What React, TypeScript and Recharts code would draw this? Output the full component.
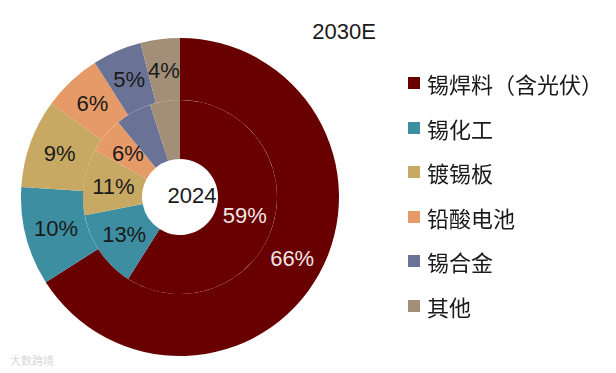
import React from "react";
import { PieChart, Pie, Cell } from "recharts";

const categories = ["锡焊料（含光伏）", "锡化工", "镀锡板", "铅酸电池", "锡合金", "其他"];
const values2024 = [59, 13, 11, 6, 6, 5];
const values2030 = [66, 10, 9, 6, 5, 4];
const showInnerLabel = [true, true, true, true, false, false];
const colors = ["#680000", "#3e8ea2", "#c7a963", "#e69a68", "#6a7396", "#a38f78"];
const labelColors = ["#f3e6e6", "#1a1a1a", "#1a1a1a", "#1a1a1a", "#1a1a1a", "#1a1a1a"];
const title = "2030E";
const centerLabel = "2024";

const inner = categories.map((name, i) => ({ name, value: values2024[i] }));
const outer = categories.map((name, i) => ({ name, value: values2030[i] }));

const FONT = "'Liberation Sans', Arial, 'Noto Sans CJK SC', sans-serif";
const RADIAN = Math.PI / 180;

const makeLabel = (show: boolean[] | null) => (props: any) => {
  const { cx, cy, midAngle, innerRadius, outerRadius, value, index } = props;
  if (show && !show[index]) return null;
  const r = (innerRadius + outerRadius) / 2;
  const x = cx + r * Math.cos(-midAngle * RADIAN);
  const y = cy + r * Math.sin(-midAngle * RADIAN);
  return (
    <text
      x={x}
      y={y}
      fill={labelColors[index]}
      fontSize={22}
      fontFamily={FONT}
      textAnchor="middle"
      dominantBaseline="central"
    >
      {`${value}%`}
    </text>
  );
};

export default function App() {
  return (
    <div style={{ position: "fixed", left: 0, top: 0, width: 616, height: 373, background: "#fff", fontFamily: FONT }}>
      <PieChart width={616} height={373} margin={{ top: 0, right: 0, bottom: 0, left: 0 }}>
        <Pie
          data={inner}
          dataKey="value"
          cx={180}
          cy={197}
          innerRadius={38}
          outerRadius={97}
          startAngle={90}
          endAngle={-270}
          stroke="none"
          label={makeLabel(showInnerLabel)}
          labelLine={false}
          isAnimationActive={false}
        >
          {inner.map((d, i) => (
            <Cell key={d.name} fill={colors[i]} />
          ))}
        </Pie>
        <Pie
          data={outer}
          dataKey="value"
          cx={180}
          cy={197}
          innerRadius={97}
          outerRadius={159}
          startAngle={90}
          endAngle={-270}
          stroke="none"
          label={makeLabel(null)}
          labelLine={false}
          isAnimationActive={false}
        >
          {outer.map((d, i) => (
            <Cell key={d.name} fill={colors[i]} />
          ))}
        </Pie>
      </PieChart>
      <div style={{ position: "absolute", left: 408, top: 61, width: 210 }}>
        {categories.map((c, i) => (
          <div
            key={c}
            style={{
              display: "flex",
              alignItems: "center",
              height: 44.5,
              fontSize: 22,
              color: "#1a1a1a",
              whiteSpace: "nowrap",
            }}
          >
            <span
              style={{
                display: "inline-block",
                width: 12,
                height: 12,
                background: colors[i],
                marginRight: 7,
              }}
            />
            {c}
          </div>
        ))}
      </div>
      <div style={{ position: "absolute", left: 300, top: 19, width: 88, textAlign: "center", fontSize: 22, color: "#1a1a1a" }}>
        {title}
      </div>
      <div style={{ position: "absolute", left: 152, top: 183, width: 80, textAlign: "center", fontSize: 22, color: "#1a1a1a" }}>
        {centerLabel}
      </div>
      <div style={{ position: "absolute", left: 10, top: 352, fontSize: 11, color: "#d8d8d8" }}>
        大数跨境
      </div>
    </div>
  );
}
